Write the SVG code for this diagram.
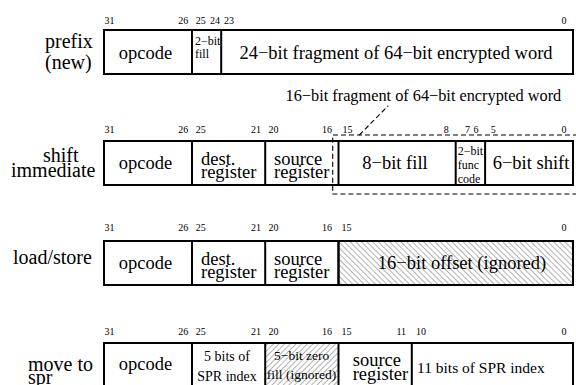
<svg xmlns="http://www.w3.org/2000/svg" width="576" height="385" viewBox="0 0 576 385">
<style>
text { font-family: "Liberation Serif", "Times New Roman", serif; fill: #000; }
.lbl { font-size: 20px; }
.f { font-size: 18.5px; }
.m { text-anchor: middle; }
.s { font-size: 12px; }
.b { font-size: 10px; text-anchor: middle; }
.box { fill: #fff; stroke: #000; stroke-width: 2; }
.div { stroke: #000; stroke-width: 2; }
.dash { fill: none; stroke: #000; stroke-width: 1.1; stroke-dasharray: 5 3; }
</style>
<defs>
<pattern id="hatchBack" patternUnits="userSpaceOnUse" width="4" height="4" patternTransform="rotate(-45)">
<line x1="0" y1="0" x2="0" y2="4" stroke="#222" stroke-width="0.7"/>
</pattern>
<pattern id="hatchFwd" patternUnits="userSpaceOnUse" width="4" height="4" patternTransform="rotate(45)">
<line x1="0" y1="0" x2="0" y2="4" stroke="#222" stroke-width="0.7"/>
</pattern>
</defs>

<g id="prefix">
<text class="lbl" x="45" y="48">prefix</text>
<text class="lbl" x="45" y="69">(new)</text>
<text class="b" x="109.5" y="24">31</text>
<text class="b" x="183.3" y="24">26</text>
<text class="b" x="200.8" y="24">25</text>
<text class="b" x="215" y="24">24</text>
<text class="b" x="229" y="24">23</text>
<text class="b" x="564" y="24">0</text>
<rect class="box" x="104" y="30" width="469" height="44"/>
<line class="div" x1="192" y1="30" x2="192" y2="74"/>
<line class="div" x1="221.2" y1="30" x2="221.2" y2="74"/>
<text class="f m" x="145.5" y="58.5">opcode</text>
<text class="s" x="195" y="45">2−bit</text>
<text class="s" x="195" y="58">fill</text>
<text class="f m" x="396" y="58.5">24−bit fragment of 64−bit encrypted word</text>
</g>

<g id="shift-immediate">
<text class="lbl" x="43" y="162">shift</text>
<text class="lbl" x="11" y="177">immediate</text>
<text class="b" x="109.5" y="133">31</text>
<text class="b" x="183.3" y="133">26</text>
<text class="b" x="200.8" y="133">25</text>
<text class="b" x="256" y="133">21</text>
<text class="b" x="273.5" y="133">20</text>
<text class="b" x="327" y="133">16</text>
<text class="b" x="347.5" y="133">15</text>
<text class="b" x="446.3" y="133">8</text>
<text class="b" x="467.5" y="133">7</text>
<text class="b" x="476" y="133">6</text>
<text class="b" x="493.3" y="133">5</text>
<text class="b" x="564" y="133">0</text>
<rect class="box" x="104" y="141" width="469" height="44"/>
<line class="div" x1="192" y1="141" x2="192" y2="185"/>
<line class="div" x1="265.2" y1="141" x2="265.2" y2="185"/>
<line class="div" x1="338.5" y1="141" x2="338.5" y2="185"/>
<line class="div" x1="455.7" y1="141" x2="455.7" y2="185"/>
<line class="div" x1="485.1" y1="141" x2="485.1" y2="185"/>
<text class="f m" x="145.5" y="169">opcode</text>
<text class="f" x="201" y="165">dest.</text>
<text class="f" x="201" y="178">register</text>
<text class="f" x="274" y="165">source</text>
<text class="f" x="274" y="178">register</text>
<text class="f m" x="395" y="168.5">8−bit fill</text>
<text class="s" x="457.7" y="155">2−bit</text>
<text class="s" x="457.7" y="169">func</text>
<text class="s" x="457.7" y="183">code</text>
<text class="f m" x="531" y="168.5">6−bit shift</text>
</g>

<g id="load-store">
<text class="lbl" x="13" y="264">load/store</text>
<text class="b" x="109.5" y="231">31</text>
<text class="b" x="183.3" y="231">26</text>
<text class="b" x="200.8" y="231">25</text>
<text class="b" x="256" y="231">21</text>
<text class="b" x="273.5" y="231">20</text>
<text class="b" x="327" y="231">16</text>
<text class="b" x="346.5" y="231">15</text>
<text class="b" x="564" y="231">0</text>
<rect class="box" x="104" y="241" width="469" height="44"/>
<rect x="338.5" y="241" width="234.5" height="44" fill="url(#hatchBack)"/>
<line class="div" x1="192" y1="241" x2="192" y2="285"/>
<line class="div" x1="265.2" y1="241" x2="265.2" y2="285"/>
<line class="div" x1="338.5" y1="241" x2="338.5" y2="285"/>
<rect x="338.5" y="241" width="234.5" height="44" fill="none" stroke="#000" stroke-width="2"/>
<text class="f m" x="145.5" y="268.5">opcode</text>
<text class="f" x="201" y="264.5">dest.</text>
<text class="f" x="201" y="277.5">register</text>
<text class="f" x="274" y="264.5">source</text>
<text class="f" x="274" y="277.5">register</text>
<text class="f m" x="462" y="268.5">16−bit offset (ignored)</text>
</g>

<g id="move-to-spr">
<text class="lbl" x="28" y="371">move to</text>
<text class="lbl" x="28" y="384">spr</text>
<text class="b" x="109.5" y="335">31</text>
<text class="b" x="183.3" y="335">26</text>
<text class="b" x="200.8" y="335">25</text>
<text class="b" x="256" y="335">21</text>
<text class="b" x="273.5" y="335">20</text>
<text class="b" x="327" y="335">16</text>
<text class="b" x="346.5" y="335">15</text>
<text class="b" x="401.3" y="335">11</text>
<text class="b" x="421" y="335">10</text>
<text class="b" x="564" y="335">0</text>
<rect class="box" x="104" y="343" width="469" height="44"/>
<rect x="265.2" y="343" width="73.3" height="44" fill="url(#hatchFwd)"/>
<line class="div" x1="192" y1="343" x2="192" y2="387"/>
<line class="div" x1="265.2" y1="343" x2="265.2" y2="387"/>
<line class="div" x1="338.5" y1="343" x2="338.5" y2="387"/>
<line class="div" x1="411.8" y1="343" x2="411.8" y2="387"/>
<text class="f m" x="145.5" y="369.5">opcode</text>
<text class="m" style="font-size:14px" x="227" y="361">5 bits of</text>
<text class="m" style="font-size:14px" x="227" y="381">SPR index</text>
<text class="m" style="font-size:13.5px" x="301.7" y="360">5−bit zero</text>
<text class="m" style="font-size:13.5px" x="301.5" y="379">fill (ignored)</text>
<text class="f" x="352.7" y="366">source</text>
<text class="f" x="352.7" y="380">register</text>
<text style="font-size:15.5px" x="417" y="373">11 bits of SPR index</text>
</g>

<g id="connectors">
<text class="m" style="font-size:16.3px" x="423.4" y="101">16−bit fragment of 64−bit encrypted word</text>
<path class="dash" d="M 578 135 H 332.7 V 194 H 578"/>
<path class="dash" d="M 359.3 135 L 388.3 105.7"/>
</g>
</svg>
